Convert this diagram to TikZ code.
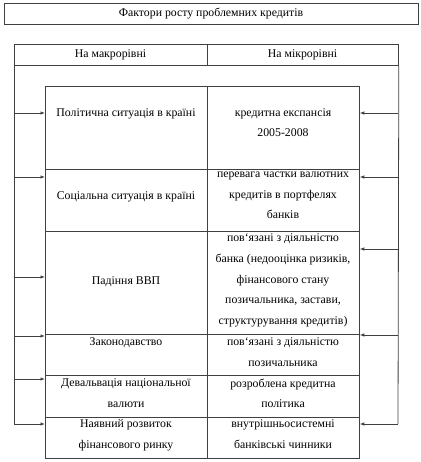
\documentclass[tikz,border=0pt]{standalone}
\usepackage{fontspec}
\setmainfont{Liberation Serif}
\usetikzlibrary{arrows.meta}
\begin{document}
\begin{tikzpicture}[x=1bp,y=-1bp,
  line/.style={draw=black!75,line width=0.8bp},
  cell/.style={line,rectangle,inner sep=0,anchor=north west},
  txt/.style={inner sep=0,anchor=north,align=center,font=\fontsize{11.8bp}{20.8bp}\selectfont},
  arr/.style={line,-{Latex[length=4.5bp,width=3.5bp]}}]
\useasboundingbox (0,0) rectangle (420,462);
% title
\node[cell,minimum width=414bp,minimum height=21bp] (title) at (4,3) {};
\node[txt,anchor=center] at (211,13.5) {Фактори росту проблемних кредитів};
% header
\node[cell,minimum width=193bp,minimum height=21bp] (hL) at (14,44) {};
\node[cell,minimum width=191bp,minimum height=21bp] (hR) at (207,44) {};
\node[txt,anchor=center] at (110.5,54.5) {На макрорівні};
\node[txt,anchor=center] at (302.5,54.5) {На мікрорівні};
% side lines
\coordinate (lbot) at (14,424);
\coordinate (rbot) at (398,424);
\draw[line] (hL.south west) -- (lbot);
\draw[line] (hR.south east) -- (rbot);
% cells
\node[cell,minimum width=162bp,minimum height=83bp] (L1) at (45,86) {};
\node[cell,minimum width=152bp,minimum height=83bp] (R1) at (207,86) {};
\node[cell,minimum width=162bp,minimum height=62bp] (L2) at (45,169) {};
\node[cell,minimum width=152bp,minimum height=62bp] (R2) at (207,169) {};
\node[cell,minimum width=162bp,minimum height=103bp] (L3) at (45,231) {};
\node[cell,minimum width=152bp,minimum height=103bp] (R3) at (207,231) {};
\node[cell,minimum width=162bp,minimum height=41bp] (L4) at (45,334) {};
\node[cell,minimum width=152bp,minimum height=41bp] (R4) at (207,334) {};
\node[cell,minimum width=162bp,minimum height=42bp] (L5) at (45,375) {};
\node[cell,minimum width=152bp,minimum height=42bp] (R5) at (207,375) {};
\node[cell,minimum width=162bp,minimum height=41bp] (L6) at (45,417) {};
\node[cell,minimum width=152bp,minimum height=41bp] (R6) at (207,417) {};
% texts
\node[txt] at (126,108) {Політична ситуація в країні};
\node[txt] at (283,108) {кредитна експансія\\2005-2008};
\node[txt] at (126,191) {Соціальна ситуація в країні};
\node[txt] at (283,171.5) {перевага частки валютних\\кредитів в портфелях\\банків};
\node[txt] at (126,276) {Падіння ВВП};
\node[txt] at (283,233.5) {пов`язані з діяльністю\\банка (недооцінка ризиків,\\фінансового стану\\позичальника, застави,\\структурування кредитів)};
\node[txt] at (126,337.5) {Законодавство};
\node[txt] at (283,337.5) {пов`язані з діяльністю\\позичальника};
\node[txt] at (126,378.5) {Девальвація національної\\валюти};
\node[txt] at (283,378.5) {розроблена кредитна\\політика};
\node[txt] at (126,419.5) {Наявний розвиток\\фінансового ринку};
\node[txt] at (283,419.5) {внутрішньосистемні\\банківські чинники};
% left arrows
\coordinate (la1) at (14,113);
\coordinate (la2) at (14,177);
\coordinate (la3) at (14,277);
\coordinate (la4) at (14,336);
\coordinate (la5) at (14,379);
\draw[arr] (la1) -- (la1 -| L1.west);
\draw[arr] (la2) -- (la2 -| L2.west);
\draw[arr] (la3) -- (la3 -| L3.west);
\draw[arr] (la4) -- (la4 -| L4.west);
\draw[arr] (la5) -- (la5 -| L5.west);
\draw[arr] (lbot) -- (lbot -| L6.west);
% right arrows
\coordinate (ra1) at (398,113);
\coordinate (ra2) at (398,177);
\coordinate (ra3) at (398,249);
\coordinate (ra4) at (398,335);
\draw[arr] (ra1) -- (ra1 -| R1.east);
\draw[arr] (ra2) -- (ra2 -| R2.east);
\draw[arr] (ra3) -- (ra3 -| R3.east);
\draw[arr] (ra4) -- (ra4 -| R4.east);
\draw[arr] (rbot) -- (rbot -| R6.east);
\end{tikzpicture}
\end{document}
